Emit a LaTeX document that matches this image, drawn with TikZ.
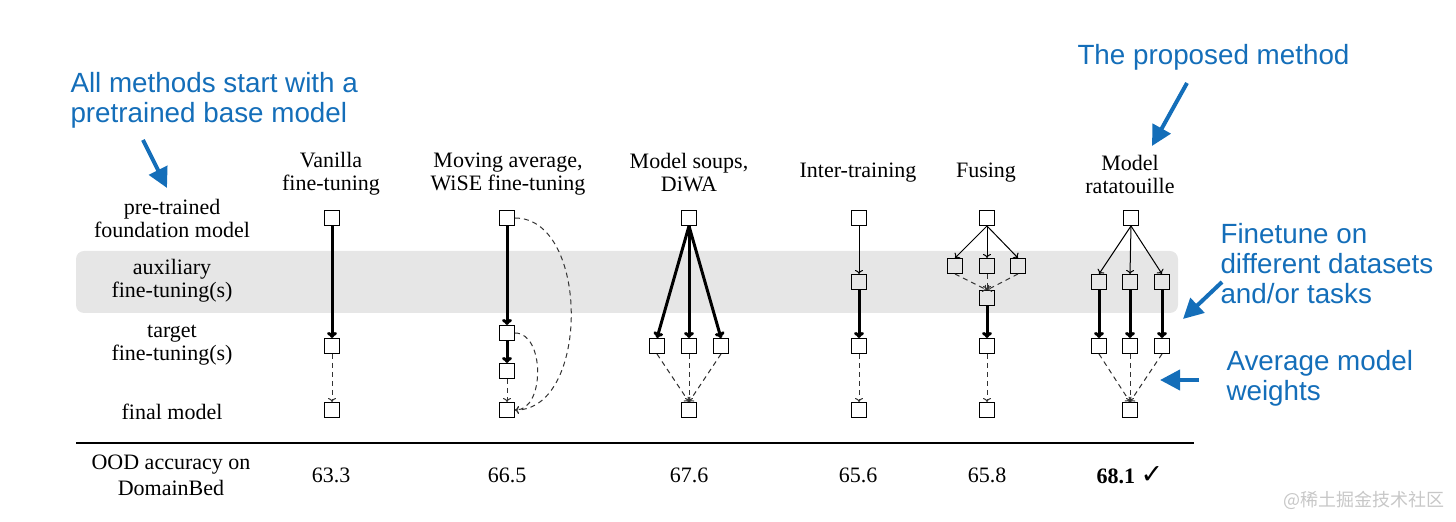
\documentclass[tikz,border=0pt]{standalone}
\usepackage{fontspec}
\setmainfont{Liberation Serif}
\newfontfamily\notefont{Liberation Sans}
\newfontfamily\markfont{Noto Sans CJK SC}
\newfontfamily\tickfont{DejaVu Sans}
\usetikzlibrary{arrows.meta}

\definecolor{noteblue}{RGB}{20,110,185}
\definecolor{bandgray}{RGB}{230,230,230}

\tikzset{every picture/.style={line width=0.5pt}}

\begin{document}
\begin{tikzpicture}[x=0.5pt,y=0.5pt,yscale=-1,xscale=1,
  box/.style={draw, minimum size=7.5pt, inner sep=0pt},
  lbl/.style={align=center, font=\fontsize{11}{11.5}\selectfont, inner sep=0.75pt},
  note/.style={align=left, anchor=west, text=noteblue, font=\notefont\fontsize{13.9}{15}\selectfont, inner sep=0pt},
  ft/.style={line width=1.5pt, -{To[length=3pt,width=5pt]}},
  aux/.style={-{To[length=2pt,width=4pt]}},
  avg/.style={black!80, dash pattern=on 2.5pt off 2pt, -{To[length=2pt,width=4pt]}},
  callout/.style={noteblue, line width=2pt, -{Triangle[length=10pt,width=10pt]}}]
\useasboundingbox (0,0) rectangle (1456,522);

%Shape: Rounded Rect
\fill [bandgray, rounded corners=4pt] (76,251) rectangle (1178,313);

% Text Node
\node [lbl] (rowpre) at (172,218) {pre-trained\\foundation model};
% Text Node
\node [lbl] (rowaux) at (172,281) {auxiliary\\fine-tuning(s)};
% Text Node
\node [lbl] (rowtgt) at (172,345) {target\\fine-tuning(s)};
% Text Node
\node [lbl] (rowfin) at (172,412) {final model};

% Text Node
\node [lbl] (hva) at (331,174) {Vanilla\\fine-tuning};
% Text Node
\node [lbl] (hmv) at (508,174) {Moving average,\\WiSE fine-tuning};
% Text Node
\node [lbl] (hms) at (689,173) {Model soups,\\DiWA};
% Text Node
\node [lbl] (hit) at (858,173) {Inter-training};
% Text Node
\node [lbl] (hfu) at (986,173) {Fusing};
% Text Node
\node [lbl] (hra) at (1130,174) {Model\\ratatouille};

%Vanilla fine-tuning
\node [box] (va0) at (332,218) {};
\node [box] (va2) at (332,346) {};
\node [box] (va3) at (332,410) {};
\draw [ft] (va0) -- (va2);
\draw [avg] (va2) -- (va3);

%Moving average
\node [box] (mv0) at (507,218) {};
\node [box] (mv2) at (507,333) {};
\node [box] (mv2b) at (507,371) {};
\node [box] (mv3) at (507,410) {};
\draw [ft] (mv0) -- (mv2);
\draw [ft] (mv2) -- (mv2b);
\draw [avg] (mv2b) -- (mv3);
\draw [avg] (mv0.east) to [out=0,in=0] (mv3.east);
\draw [avg] (mv2.east) to [out=0,in=0] (mv3.east);

%Model soups
\node [box] (ms0) at (689,218) {};
\node [box] (ms1) at (657,346) {};
\node [box] (ms2) at (689,346) {};
\node [box] (ms3) at (721,346) {};
\node [box] (ms4) at (689,410) {};
\draw [ft] (ms0.south) -- (ms1.north);
\draw [ft] (ms0.south) -- (ms2.north);
\draw [ft] (ms0.south) -- (ms3.north);
\draw [avg] (ms1.south) -- (ms4.north);
\draw [avg] (ms2.south) -- (ms4.north);
\draw [avg] (ms3.south) -- (ms4.north);

%Inter-training
\node [box] (it0) at (859,218) {};
\node [box] (it1) at (859,282) {};
\node [box] (it2) at (859,346) {};
\node [box] (it3) at (859,410) {};
\draw [aux] (it0) -- (it1);
\draw [ft] (it1) -- (it2);
\draw [avg] (it2) -- (it3);

%Fusing
\node [box] (fu0) at (987,218) {};
\node [box] (fu1) at (955,266) {};
\node [box] (fu2) at (987,266) {};
\node [box] (fu3) at (1018,266) {};
\node [box] (fu4) at (987,298) {};
\node [box] (fu5) at (987,346) {};
\node [box] (fu6) at (987,410) {};
\draw [aux] (fu0.south) -- (fu1.north);
\draw [aux] (fu0.south) -- (fu2.north);
\draw [aux] (fu0.south) -- (fu3.north);
\draw [avg] (fu1.south) -- (fu4.north);
\draw [avg] (fu2.south) -- (fu4.north);
\draw [avg] (fu3.south) -- (fu4.north);
\draw [ft] (fu4) -- (fu5);
\draw [avg] (fu5) -- (fu6);

%Model ratatouille
\node [box] (ra0) at (1131,218) {};
\node [box] (ra1) at (1099,282) {};
\node [box] (ra2) at (1130,282) {};
\node [box] (ra3) at (1162,282) {};
\node [box] (ra4) at (1099,346) {};
\node [box] (ra5) at (1130,346) {};
\node [box] (ra6) at (1162,346) {};
\node [box] (ra7) at (1130,410) {};
\draw [aux] (ra0.south) -- (ra1.north);
\draw [aux] (ra0.south) -- (ra2.north);
\draw [aux] (ra0.south) -- (ra3.north);
\draw [ft] (ra1) -- (ra4);
\draw [ft] (ra2) -- (ra5);
\draw [ft] (ra3) -- (ra6);
\draw [avg] (ra4.south) -- (ra7.north);
\draw [avg] (ra5.south) -- (ra7.north);
\draw [avg] (ra6.south) -- (ra7.north);

%Straight Lines
\coordinate (ruleL) at (76,443);
\coordinate (ruleR) at (1194,443);
\draw [line width=1pt] (ruleL) -- (ruleR);

% Text Node
\node [lbl, font=\fontsize{11}{13}\selectfont] (acc) at (171,475) {OOD accuracy on\\DomainBed};
% Text Node
\node [lbl] (r1) at (331,475) {63.3};
% Text Node
\node [lbl] (r2) at (507,475) {66.5};
% Text Node
\node [lbl] (r3) at (689,475) {67.6};
% Text Node
\node [lbl] (r4) at (858,475) {65.6};
% Text Node
\node [lbl] (r5) at (987,475) {65.8};
% Text Node
\node [lbl] (r6) at (1130,475) {\textbf{68.1} {\tickfont\bfseries\fontsize{13.5}{13.5}\selectfont ✓}};

%Callouts
\node [note] (nbase) at (70,100) {All methods start with a\\pretrained base model};
\node [note] (nprop) at (1077,57) {The proposed method};
\node [note] (nfine) at (1220,264) {Finetune on\\different datasets\\and/or tasks};
\node [note] (navg) at (1226,378) {Average model\\weights};
\coordinate (cb1) at (143,140);
\coordinate (cb2) at (167,188);
\coordinate (cp1) at (1187,83);
\coordinate (cp2) at (1152,146);
\coordinate (cf1) at (1222,282);
\coordinate (cf2) at (1183,319);
\coordinate (ca1) at (1199,380);
\coordinate (ca2) at (1160,380);
\draw [callout] (cb1) -- (cb2);
\draw [callout] (cp1) -- (cp2);
\draw [callout] (cf1) -- (cf2);
\draw [callout] (ca1) -- (ca2);

% Text Node
\node [anchor=east, text=black!22, font=\markfont\fontsize{9}{10}\selectfont] (wm) at (1452,500) {@稀土掘金技术社区};

\end{tikzpicture}
\end{document}
